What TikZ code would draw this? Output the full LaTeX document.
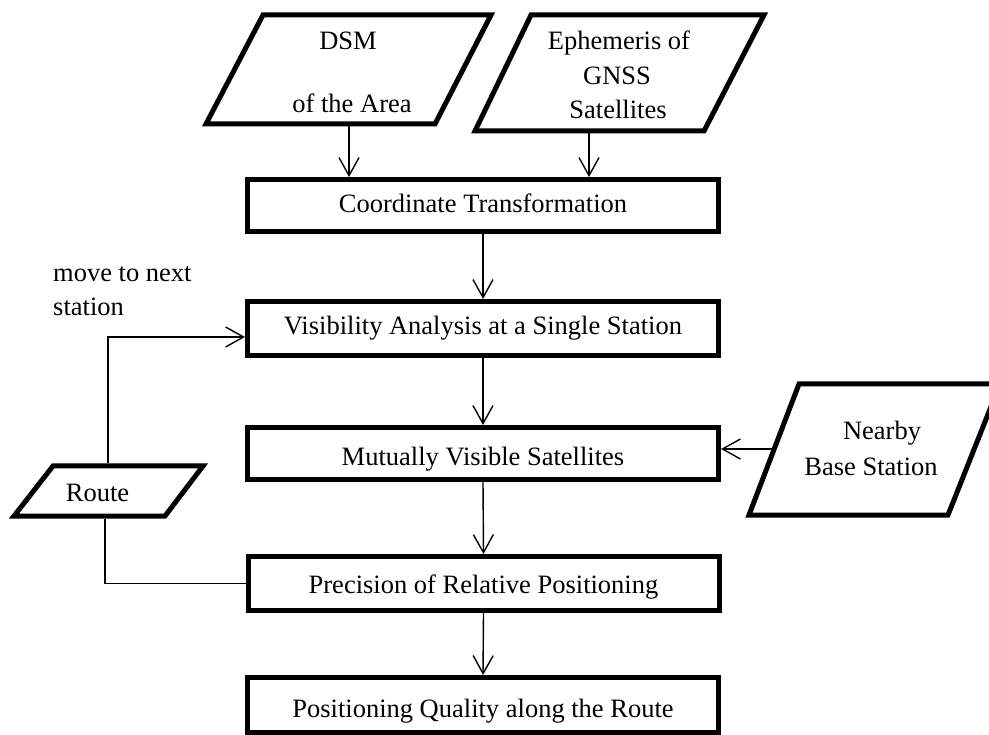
\documentclass[tikz,border=0pt]{standalone}
\usepackage{fontspec}
\setmainfont{Liberation Serif}
\usetikzlibrary{arrows.meta}
\begin{document}
\begin{tikzpicture}[x=1pt,y=-1pt,
  font=\fontsize{26.5}{34}\selectfont,
  procbox/.style={draw, line width=5pt, minimum width=471pt, minimum height=52pt, inner sep=0pt, text depth=0pt},
  iobox/.style={draw, line width=5pt, line join=miter},
  conn/.style={line width=1.4pt},
  arr/.style={conn, -{Straight Barb[length=18pt,width=20pt,line width=1.4pt]}},
  lbl/.style={anchor=base, inner sep=0pt}
]
\useasboundingbox (0,0) rectangle (989,735);

% input parallelograms
\draw[iobox] (263,15) -- (491,15) -- (435,124) -- (206,124) -- cycle;
\draw[iobox] (531,15) -- (764,15) -- (704,131) -- (475,131) -- cycle;
\draw[iobox] (799,384) -- (1000,384) -- (948,515) -- (749,515) -- cycle;
\draw[iobox] (53,466) -- (203,466) -- (165,516) -- (14,516) -- cycle;

\coordinate (dsmOut) at (349,126.5);
\coordinate (ephOut) at (589,133.5);
\coordinate (rtTop) at (108,463.5);
\coordinate (rtBot) at (105,518.5);
\coordinate (nbL) at (771.5,449);
\coordinate (loopY) at (0,337);

% process boxes
\node[procbox, text height=15pt] (ct) at (483,205.5) {Coordinate Transformation};
\node[procbox, minimum height=54pt, text height=13pt] (vis) at (483,328.5) {Visibility Analysis at a Single Station};
\node[procbox, text height=25pt] (mut) at (483,453.5) {Mutually Visible Satellites};
\node[procbox, minimum height=54pt, text height=19pt] (prec) at (483.5,583.5) {Precision of Relative Positioning};
\node[procbox, minimum height=55pt, text height=24pt] (pos) at (483,705) {Positioning Quality along the Route};

% labels
\node[lbl] (dsm1) at (348,50) {DSM};
\node[lbl] (dsm2) at (352,113) {of the Area};
\node[lbl] (eph1) at (619,50) {Ephemeris of};
\node[lbl] (eph2) at (617,85) {GNSS};
\node[lbl] (eph3) at (618,119) {Satellites};
\node[lbl] (nb1) at (882,440) {Nearby};
\node[lbl] (nb2) at (871,476) {Base Station};
\node[lbl] (rt) at (97.5,502) {Route};
\node[lbl, anchor=base west] (mv1) at (53,282) {move to next};
\node[lbl, anchor=base west] (mv2) at (53,316) {station};

% connectors
\draw[arr] (dsmOut) -- (ct.north -| dsmOut);
\draw[arr] (ephOut) -- (ct.north -| ephOut);
\draw[arr] (ct.south) -- (vis.north);
\draw[arr] (rtTop) |- (vis.west |- loopY);
\draw[conn] (rtBot) |- (prec.west);
\draw[arr] (vis.south) -- (mut.north);
\draw[arr] (nbL) -- (mut.east |- nbL);
\draw[arr] (mut.south) -- (prec.north);
\draw[arr] (prec.south) -- (pos.north);
\end{tikzpicture}
\end{document}
